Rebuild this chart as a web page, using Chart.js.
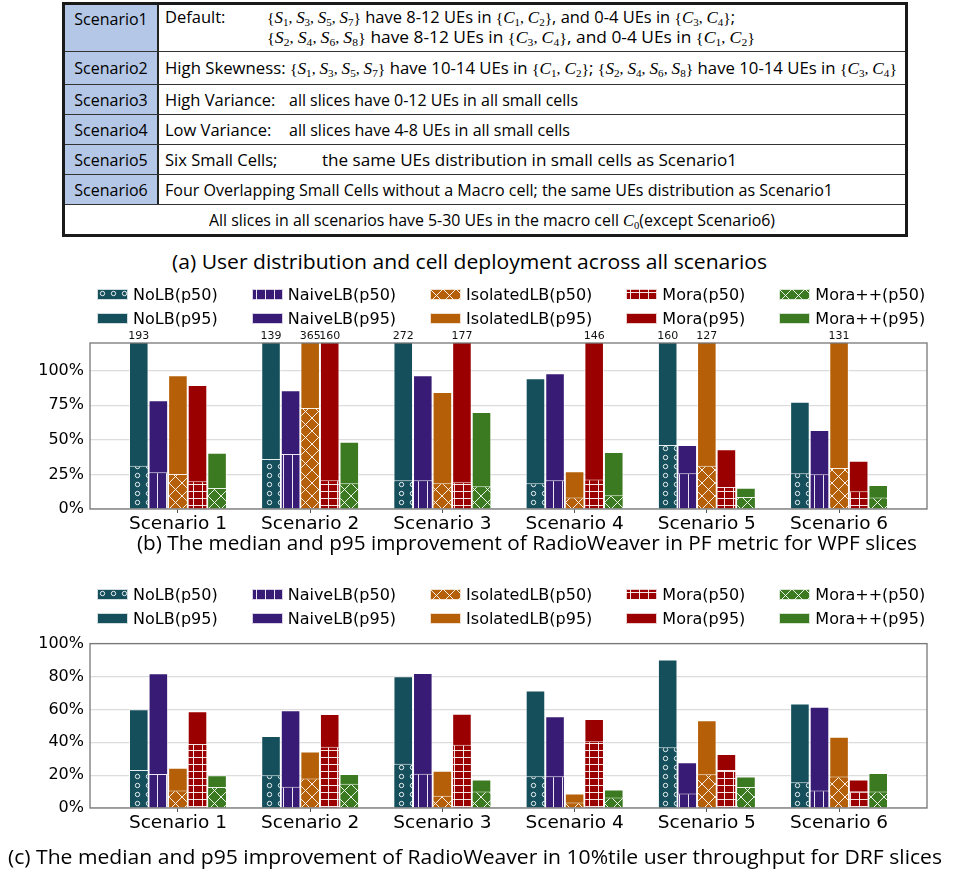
<!DOCTYPE html>
<html>
<head>
<meta charset="utf-8">
<script src="https://cdn.jsdelivr.net/npm/chart.js@4.4.1/dist/chart.umd.min.js"></script>
<style>
body { margin: 0; background: #fff; }
#page { position: relative; width: 969px; height: 883px; overflow: hidden; font-family: "Open Sans", sans-serif; color: #000; }
#tbl { position: absolute; left: 62px; top: 2px; width: 846px; height: 235px; border: 3px solid #1a1a1a; box-sizing: border-box; }
.row { position: absolute; left: 0; right: 0; border-bottom: 1.5px solid #333; box-sizing: border-box; }
.row:last-child { border-bottom: none; }
.sc { position: absolute; left: 0; top: 0; bottom: 0; width: 94px; background: #b4c7e7; border-right: 2px solid #222; box-sizing: border-box;
      font-size: 16px; text-align: center; display: flex; align-items: center; justify-content: center; }
.tx { position: absolute; left: 99px; right: 0; top: 0; bottom: 0; font-size: 16.5px; display: flex; flex-direction: column; justify-content: center; }
.ln { position: relative; height: 22px; }
.seg { position: absolute; top: 0; left: 0; white-space: nowrap; line-height: 22px; transform-origin: 0 50%; }
.m { font-family: "Liberation Serif", serif; font-size: 15.5px; }
.m i { font-style: italic; font-size: 17px; }
.m sub { font-size: 11px; vertical-align: -3px; line-height: 0; }
.cap { position: absolute; white-space: nowrap; font-size: 20px; transform-origin: 0 50%; }
.cv { position: absolute; left: 0; width: 969px; }
.legend { position: absolute; left: 97px; display: flex; gap: 34px; font-family: "DejaVu Sans", sans-serif; font-size: 16px; }
.legend .col { display: flex; flex-direction: column; gap: 3px; }
.legend .it { display: flex; align-items: center; height: 21px; white-space: nowrap; }
.legend canvas { margin-right: 5px; }
</style>
</head>
<body>
<div id="page">
  <div id="tbl"></div>
  <div class="cap" data-x0="172" data-x1="767" style="top:248px;">(a) User distribution and cell deployment across all scenarios</div>

  <div class="legend" id="legB" style="top:284px;"></div>
  <div class="cv" style="top:327px; height:212px;"><canvas id="chartB"></canvas></div>
  <div class="cap" data-x0="137" data-x1="917" style="top:529px;">(b) The median and p95 improvement of RadioWeaver in PF metric for WPF slices</div>

  <div class="legend" id="legC" style="top:584px;"></div>
  <div class="cv" style="top:628px; height:210px;"><canvas id="chartC"></canvas></div>
  <div class="cap" data-x0="8" data-x1="942" style="top:843px;">(c) The median and p95 improvement of RadioWeaver in 10%tile user throughput for DRF slices</div>
</div>
<script>
// Categories and series
const scenarios = ['Scenario 1', 'Scenario 2', 'Scenario 3', 'Scenario 4', 'Scenario 5', 'Scenario 6'];
const methods = ['NoLB', 'NaiveLB', 'IsolatedLB', 'Mora', 'Mora++'];
const colors = ['#154f5c', '#381b75', '#b55f08', '#9b0000', '#3b7a20'];
const hatches = ['o', '|', 'x', '+', 'x'];

// (b) PF metric, WPF slices, improvement in %
const pfNoLBp50 = [31.3, 36.2, 20.7, 18.6, 46.3, 25.8];
const pfNaiveLBp50 = [26.5, 39.8, 20.7, 20.7, 25.8, 25.1];
const pfIsolatedLBp50 = [25.3, 73.0, 18.6, 8.4, 31.3, 29.6];
const pfMorap50 = [20.0, 20.7, 19.3, 21.4, 15.9, 12.8];
const pfMoraPPp50 = [15.2, 18.6, 16.4, 9.9, 8.7, 8.4];
const pfNoLBp95 = [193, 139, 272, 94.5, 160, 77.6];
const pfNaiveLBp95 = [78.6, 85.8, 96.7, 98.1, 46.3, 57.1];
const pfIsolatedLBp95 = [96.7, 365, 84.6, 27.2, 127, 131];
const pfMorap95 = [89.7, 160, 177, 146, 43.2, 34.9];
const pfMoraPPp95 = [40.7, 48.7, 70.1, 41.2, 15.4, 17.4];

// (c) 10%tile user throughput, DRF slices, improvement in %
const drfNoLBp50 = [23.1, 19.9, 26.9, 19.3, 36.9, 15.7];
const drfNaiveLBp50 = [20.7, 13.0, 20.9, 19.3, 8.8, 10.6];
const drfIsolatedLBp50 = [10.6, 17.9, 7.4, 3.4, 20.5, 19.1];
const drfMorap50 = [39.0, 37.3, 38.4, 40.6, 23.1, 10.2];
const drfMoraPPp50 = [12.7, 14.7, 10.0, 6.4, 12.7, 10.0];
const drfNoLBp95 = [60.0, 43.8, 80.1, 71.5, 90.4, 63.6];
const drfNaiveLBp95 = [81.9, 59.4, 82.1, 55.8, 27.9, 61.6];
const drfIsolatedLBp95 = [24.5, 34.3, 22.7, 8.8, 53.4, 43.4];
const drfMorap95 = [58.8, 57.2, 57.4, 54.2, 32.9, 17.3];
const drfMoraPPp95 = [19.9, 20.7, 17.3, 11.2, 19.1, 21.3];

// Table (a): each line is a list of [text, x0, x1]; x1 null = natural width
function sset(letter, subs) {
    return '<span class="m">{' + subs.map(s => '<i>' + letter + '</i><sub>' + s + '</sub>').join(', ') + '}</span>';
}
const S1357 = sset('S', [1, 3, 5, 7]), S2468 = sset('S', [2, 4, 6, 8]);
const C12 = sset('C', [1, 2]), C34 = sset('C', [3, 4]);
const tableRows = [
    { h: 47, sc: 'Scenario1', top: true, lines: [
        [['Default:', 165, null], [S1357 + ' have 8-12 UEs in ' + C12 + ', and 0-4 UEs in ' + C34 + ';', 267, 735]],
        [[S2468 + ' have 8-12 UEs in ' + C34 + ', and 0-4 UEs in ' + C12, 267, 755]]] },
    { h: 33, sc: 'Scenario2', lines: [
        [['High Skewness: ' + S1357 + ' have 10-14 UEs in ' + C12 + '; ' + S2468 + ' have 10-14 UEs in ' + C34, 165, 897]]] },
    { h: 30, sc: 'Scenario3', lines: [[['High Variance:', 165, null], ['all slices have 0-12 UEs in all small cells', 289, 578]]] },
    { h: 30, sc: 'Scenario4', lines: [[['Low Variance:', 165, null], ['all slices have 4-8 UEs in all small cells', 289, 570]]] },
    { h: 30, sc: 'Scenario5', lines: [[['Six Small Cells;', 165, null], ['the same UEs distribution in small cells as Scenario1', 322, 737]]] },
    { h: 30, sc: 'Scenario6', lines: [[['Four Overlapping Small Cells without a Macro cell; the same UEs distribution as Scenario1', 165, 833]]] },
    { h: 29, sc: null, lines: [[['All slices in all scenarios have 5-30 UEs in the macro cell <span class="m"><i>C</i><sub>0</sub></span>(except Scenario6)', 209, 775]]] }
];
(function buildTable() {
    const tbl = document.getElementById('tbl');
    let y = 0;
    tableRows.forEach(r => {
        const row = document.createElement('div');
        row.className = 'row';
        row.style.top = y + 'px';
        row.style.height = r.h + 'px';
        if (r.sc) {
            const sc = document.createElement('div');
            sc.className = 'sc';
            sc.textContent = r.sc;
            if (r.top) { sc.style.alignItems = 'flex-start'; sc.style.paddingTop = '3px'; }
            row.appendChild(sc);
        }
        const tx = document.createElement('div');
        tx.className = 'tx';
        if (!r.sc) { tx.style.left = '0px'; }
        if (r.top) { tx.style.justifyContent = 'flex-start'; tx.style.paddingTop = '1px'; }
        r.lines.forEach(segs => {
            const ln = document.createElement('div');
            ln.className = 'ln';
            if (r.top) ln.style.height = '20px';
            segs.forEach(s => {
                const sp = document.createElement('span');
                sp.className = 'seg';
                sp.innerHTML = s[0];
                sp.dataset.x0 = s[1];
                if (s[2] !== null) sp.dataset.x1 = s[2];
                ln.appendChild(sp);
            });
            tx.appendChild(ln);
        });
        row.appendChild(tx);
        tbl.appendChild(row);
        y += r.h;
    });
})();

// Hatch patterns, roughly matplotlib 'o', '|', 'x', '+'
function makeHatch(kind, color) {
    const t = document.createElement('canvas');
    const size = { 'o': [11, 9], '|': [9, 9], 'x': [13, 13], '+': [9, 7] }[kind];
    const w = size[0], h = size[1];
    t.width = w; t.height = h;
    const c = t.getContext('2d');
    c.fillStyle = color;
    c.fillRect(0, 0, w, h);
    c.strokeStyle = 'rgba(255,255,255,0.9)';
    c.lineWidth = 1;
    c.beginPath();
    if (kind === 'o') {
        c.arc(5.5, 4.5, 2.2, 0, Math.PI * 2);
    } else if (kind === '|') {
        c.moveTo(4.5, 0); c.lineTo(4.5, h);
    } else if (kind === 'x') {
        c.moveTo(0, 0); c.lineTo(w, h);
        c.moveTo(w, 0); c.lineTo(0, h);
    } else {
        c.moveTo(4.5, 0); c.lineTo(4.5, h);
        c.moveTo(0, 3.5); c.lineTo(w, 3.5);
    }
    c.stroke();
    return c.createPattern(t, 'repeat');
}
const patterns = methods.map((m, k) => makeHatch(hatches[k], colors[k]));

function buildLegend(id) {
    const leg = document.getElementById(id);
    methods.forEach((m, k) => {
        const col = document.createElement('div');
        col.className = 'col';
        ['p50', 'p95'].forEach(p => {
            const it = document.createElement('div');
            it.className = 'it';
            const sw = document.createElement('canvas');
            sw.width = 31; sw.height = 11;
            const c = sw.getContext('2d');
            c.fillStyle = p === 'p50' ? patterns[k] : colors[k];
            c.fillRect(0, 0, 31, 11);
            c.strokeStyle = 'rgba(255,255,255,0.8)';
            c.strokeRect(0.5, 0.5, 30, 10);
            it.appendChild(sw);
            it.appendChild(document.createTextNode(m + '(' + p + ')'));
            col.appendChild(it);
        });
        leg.appendChild(col);
    });
}

// Frame around plot area + labels for bars that run past the top
const framePlugin = {
    id: 'frame',
    afterDatasetsDraw(chart) {
        const { ctx, chartArea: a } = chart;
        const yMax = chart.scales.y.max;
        ctx.save();
        ctx.font = '11px "DejaVu Sans"';
        ctx.fillStyle = '#111';
        ctx.textAlign = 'center';
        ctx.textBaseline = 'bottom';
        chart.data.datasets.forEach((ds, di) => {
            const meta = chart.getDatasetMeta(di);
            meta.data.forEach((bar, i) => {
                const v = ds.data[i].y;
                if (v > yMax) ctx.fillText(String(v), bar.x, a.top - 1);
            });
        });
        ctx.strokeStyle = '#777';
        ctx.lineWidth = 1.3;
        ctx.strokeRect(a.left, a.top, a.right - a.left, a.bottom - a.top);
        ctx.restore();
    }
};

function makeChart(id, med, p95, yMax, yStep, padTop) {
    const datasets = [];
    methods.forEach((m, k) => {
        datasets.push({
            label: m + '(p50)', stack: m,
            data: med[k].map((v, i) => ({ x: i, y: v })),
            backgroundColor: patterns[k],
            borderColor: 'rgba(255,255,255,0.9)', borderWidth: 1
        });
    });
    methods.forEach((m, k) => {
        datasets.push({
            label: m + '(p95)', stack: m,
            data: p95[k].map((v, i) => ({ x: i, y: v })),
            backgroundColor: colors[k],
            borderColor: 'rgba(255,255,255,0.55)', borderWidth: 1
        });
    });
    return new Chart(document.getElementById(id), {
        type: 'bar',
        data: { datasets },
        options: {
            responsive: true,
            maintainAspectRatio: false,
            animation: false,
            categoryPercentage: 0.74,
            barPercentage: 1.0,
            layout: { padding: { top: padTop, right: 42, left: 0, bottom: 4 } },
            plugins: { legend: { display: false }, tooltip: { enabled: false } },
            scales: {
                x: {
                    type: 'linear',
                    min: -0.665, max: 5.665,
                    offset: false,
                    afterBuildTicks(axis) { axis.ticks = scenarios.map((s, i) => ({ value: i })); },
                    afterFit(scale) { scale.height = 26; },
                    ticks: {
                        callback: v => scenarios[v],
                        autoSkip: false, maxRotation: 0, padding: 0,
                        color: '#000', font: { family: 'DejaVu Sans', size: 18.5 }
                    },
                    grid: { drawOnChartArea: false, drawTicks: true, tickLength: 4, color: '#555', offset: false },
                    border: { display: false }
                },
                y: {
                    stacked: false,
                    min: 0, max: yMax,
                    afterBuildTicks(axis) { axis.ticks = axis.ticks.filter(t => t.value <= 100); },
                    afterFit(scale) { scale.width = 90; },
                    ticks: {
                        stepSize: yStep, padding: 6,
                        callback: v => v + '%',
                        color: '#000', font: { family: 'DejaVu Sans', size: 16 }
                    },
                    grid: { color: '#dcdcdc', lineWidth: 1.2, drawTicks: false },
                    border: { display: false }
                }
            }
        },
        plugins: [framePlugin]
    });
}

buildLegend('legB');
buildLegend('legC');
makeChart('chartB',
    [pfNoLBp50, pfNaiveLBp50, pfIsolatedLBp50, pfMorap50, pfMoraPPp50],
    [pfNoLBp95, pfNaiveLBp95, pfIsolatedLBp95, pfMorap95, pfMoraPPp95], 120, 25, 16);
makeChart('chartC',
    [drfNoLBp50, drfNaiveLBp50, drfIsolatedLBp50, drfMorap50, drfMoraPPp50],
    [drfNoLBp95, drfNaiveLBp95, drfIsolatedLBp95, drfMorap95, drfMoraPPp95], 100, 20, 14);

// Place table text and captions at the horizontal span they take in the figure
document.querySelectorAll('.seg, .cap').forEach(el => {
    el.style.left = '0px';
    const r = el.getBoundingClientRect();
    const x0 = Number(el.dataset.x0);
    const parentLeft = el.offsetParent.getBoundingClientRect().left + el.offsetParent.clientLeft;
    el.style.left = (x0 - parentLeft) + 'px';
    if (el.dataset.x1) {
        el.style.transform = 'scaleX(' + ((Number(el.dataset.x1) - x0) / r.width) + ')';
    }
});
</script>
</body>
</html>
